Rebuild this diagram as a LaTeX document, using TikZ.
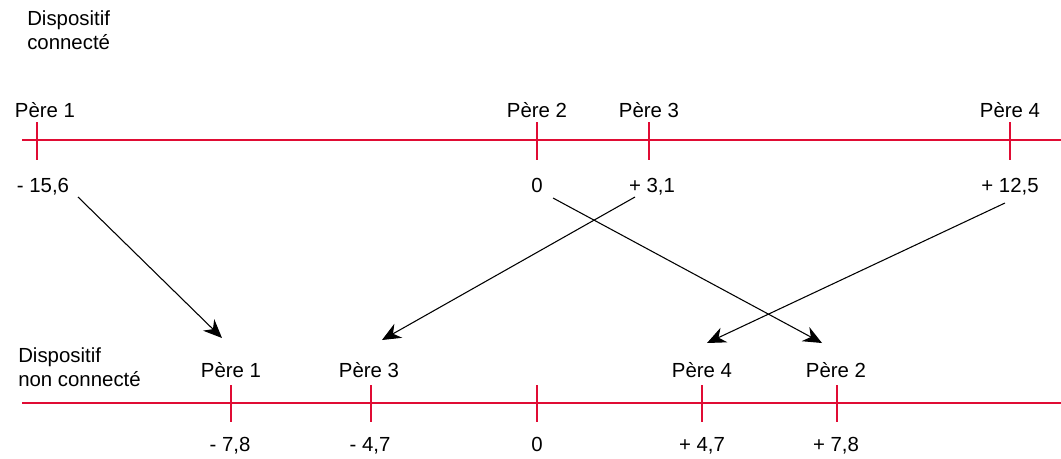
\documentclass[tikz,border=0pt]{standalone}
\usepackage{fontspec}
\setmainfont{Liberation Sans}
\usepackage{xcolor}
\definecolor{axered}{RGB}{224,12,52}
\usetikzlibrary{arrows.meta, calc}

\begin{document}
\begin{tikzpicture}[x=0.75pt, y=-0.75pt,
    axe/.style={draw=axered, line width=2.1pt},
    tick/.style={draw=axered, line width=2.1pt},
    lbl/.style={inner sep=0pt, text height=11pt, text depth=3pt,
      font=\fontsize{15.3}{18}\selectfont},
    titre/.style={inner sep=0pt, anchor=west, align=left,
      font=\fontsize{15.3}{18}\selectfont},
    arrow/.style={thick, -{Stealth[length=14pt, width=12pt, inset=4.5pt]}}
]
\useasboundingbox (0,0) rectangle (1061,458);

% dispositif connecte
\node[titre] (titre1) at (27,30) {Dispositif\\connecté};
\coordinate (h0) at (22,140);
\coordinate (h1) at (1061,140);
\draw[axe] (h0) -- (h1);
\foreach \x in {37,537,649,1010}
  \draw[tick] (\x,122) -- (\x,160);
\node[lbl] (hp1) at (45,112) {Père 1};
\node[lbl] (hp2) at (537,112) {Père 2};
\node[lbl] (hp3) at (649,112) {Père 3};
\node[lbl] (hp4) at (1010,112) {Père 4};
\node[lbl] (hv1) at (43,187) {- 15,6};
\node[lbl] (hv2) at (537,187) {0};
\node[lbl] (hv3) at (652,187) {+ 3,1};
\node[lbl] (hv4) at (1010,187) {+ 12,5};

% dispositif non connecte
\node[titre] (titre2) at (18,367) {Dispositif\\non connecté};
\coordinate (b0) at (22,403);
\coordinate (b1) at (1061,403);
\draw[axe] (b0) -- (b1);
\foreach \x in {231,371,537,702,837}
  \draw[tick] (\x,385) -- (\x,422);
\node[lbl] (bp1) at (231,372) {Père 1};
\node[lbl] (bp3) at (369,372) {Père 3};
\node[lbl] (bp4) at (702,372) {Père 4};
\node[lbl] (bp2) at (836,372) {Père 2};
\node[lbl] (bv1) at (230,446) {- 7,8};
\node[lbl] (bv3) at (370,446) {- 4,7};
\node[lbl] (bv0) at (537,446) {0};
\node[lbl] (bv4) at (702,446) {+ 4,7};
\node[lbl] (bv2) at (836,446) {+ 7,8};

% correspondances
\draw[arrow] ($(hv1)+(35,10)$) -- ($(bp1)+(-9,-34)$);
\draw[arrow] ($(hv3)+(-17,10)$) -- ($(bp3)+(13,-32)$);
\draw[arrow] ($(hv4)+(-5,16)$) -- ($(bp4)+(5,-29)$);
\draw[arrow] ($(hv2)+(16,11)$) -- ($(bp2)+(-14,-29)$);
\end{tikzpicture}
\end{document}
